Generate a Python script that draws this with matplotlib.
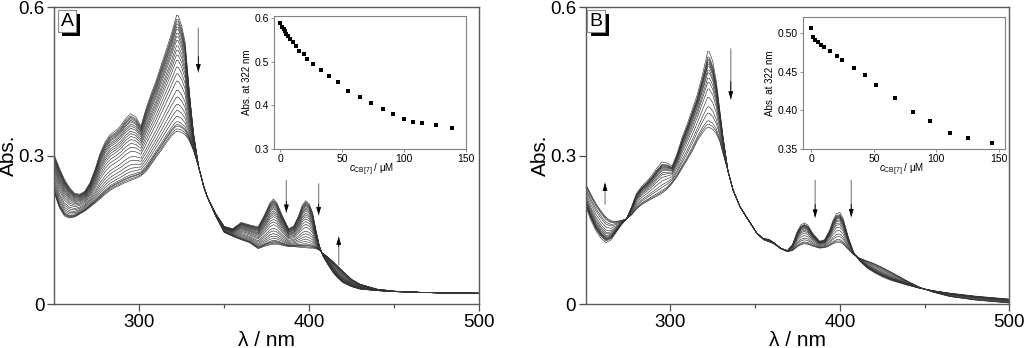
import numpy as np
import matplotlib
matplotlib.use("Agg")
import matplotlib.pyplot as plt
import matplotlib.patheffects as pe

plt.rcParams['font.family'] = ['Liberation Sans', 'DejaVu Sans']
plt.rcParams['mathtext.fontset'] = 'custom'
plt.rcParams['mathtext.rm'] = 'Liberation Sans'
plt.rcParams['mathtext.it'] = 'Liberation Sans:italic'

# ---- panel A : first and last scan ----
wl_a = [250, 253, 256, 259, 262, 265, 268, 271, 274, 277, 280, 283, 286, 289, 292,
        295, 298, 301, 304, 307, 310, 313, 316, 319, 321, 322, 323, 325, 327, 329,
        330, 332, 335, 338, 340, 345, 350, 355, 360, 365, 370, 374, 377, 379, 381,
        384, 388, 391, 394, 396, 398, 400, 402, 404, 406, 408, 411, 414, 417, 420,
        425, 430, 440, 450, 470, 500]
abs_a_first = [0.301, 0.275, 0.252, 0.235, 0.224, 0.222, 0.228, 0.245, 0.272, 0.305,
               0.328, 0.343, 0.350, 0.360, 0.375, 0.385, 0.378, 0.360, 0.395, 0.425,
               0.452, 0.484, 0.515, 0.547, 0.572, 0.584, 0.583, 0.562, 0.530, 0.450,
               0.412, 0.345, 0.277, 0.237, 0.217, 0.183, 0.157, 0.152, 0.165, 0.160,
               0.156, 0.182, 0.205, 0.212, 0.205, 0.180, 0.152, 0.158, 0.180, 0.200,
               0.209, 0.203, 0.185, 0.150, 0.118, 0.098, 0.080, 0.064, 0.052, 0.043,
               0.035, 0.030, 0.027, 0.025, 0.023, 0.022]
abs_a_last = [0.225, 0.195, 0.178, 0.174, 0.176, 0.182, 0.188, 0.196, 0.204, 0.213,
              0.222, 0.230, 0.236, 0.241, 0.246, 0.250, 0.254, 0.259, 0.268, 0.282,
              0.297, 0.311, 0.326, 0.340, 0.347, 0.349, 0.349, 0.347, 0.342, 0.333,
              0.326, 0.310, 0.277, 0.237, 0.217, 0.178, 0.145, 0.137, 0.130, 0.124,
              0.112, 0.117, 0.120, 0.121, 0.121, 0.119, 0.116, 0.116, 0.115, 0.114,
              0.114, 0.113, 0.113, 0.112, 0.109, 0.103, 0.095, 0.086, 0.076, 0.066,
              0.050, 0.040, 0.030, 0.026, 0.023, 0.021]

# inset A: abs. at 322 nm vs c(CB[7])
conc_a = [0.2, 1.6, 2.7, 3.7, 4.8, 6.2, 8.0, 10.2, 12.8, 15.5, 19.3, 22.0, 26.8,
          32.6, 39.3, 46.8, 55.1, 64.2, 73.8, 82.9, 91.5, 99.8, 107.5, 115.0, 126.0, 139.1]
a322_a = [0.589, 0.581, 0.576, 0.571, 0.565, 0.560, 0.552, 0.545, 0.537, 0.526, 0.517,
          0.507, 0.496, 0.482, 0.468, 0.453, 0.434, 0.420, 0.405, 0.392, 0.380, 0.369,
          0.363, 0.360, 0.354, 0.349]

# ---- panel B ----
wl_b = [250, 253, 256, 259, 262, 265, 268, 271, 274, 277, 280, 283, 286, 289, 292,
        295, 298, 301, 304, 307, 310, 313, 316, 319, 321, 322, 323, 325, 327, 329,
        331, 334, 337, 341, 345, 351, 355, 358, 361, 365, 369, 372, 375, 377, 379,
        381, 384, 388, 391, 394, 396, 398, 400, 402, 405, 408, 412, 416, 420, 425,
        430, 440, 447, 455, 465, 480, 500]
abs_b_first = [0.197, 0.170, 0.148, 0.133, 0.124, 0.130, 0.145, 0.160, 0.172, 0.196,
               0.224, 0.238, 0.248, 0.260, 0.275, 0.287, 0.285, 0.279, 0.305, 0.338,
               0.365, 0.395, 0.425, 0.466, 0.495, 0.511, 0.510, 0.490, 0.452, 0.396,
               0.340, 0.268, 0.230, 0.197, 0.175, 0.143, 0.132, 0.131, 0.124, 0.113,
               0.108, 0.120, 0.148, 0.160, 0.164, 0.160, 0.143, 0.127, 0.130, 0.150,
               0.170, 0.183, 0.185, 0.172, 0.135, 0.105, 0.086, 0.073, 0.064, 0.055,
               0.048, 0.038, 0.032, 0.027, 0.022, 0.016, 0.010]
abs_b_last = [0.243, 0.222, 0.203, 0.188, 0.175, 0.168, 0.167, 0.169, 0.172, 0.180,
              0.192, 0.201, 0.207, 0.213, 0.218, 0.224, 0.232, 0.244, 0.258, 0.275,
              0.292, 0.310, 0.331, 0.347, 0.355, 0.357, 0.357, 0.353, 0.345, 0.330,
              0.305, 0.268, 0.230, 0.197, 0.175, 0.143, 0.130, 0.126, 0.122, 0.112,
              0.106, 0.108, 0.116, 0.120, 0.122, 0.121, 0.117, 0.113, 0.114, 0.118,
              0.122, 0.125, 0.125, 0.121, 0.110, 0.100, 0.092, 0.087, 0.082, 0.074,
              0.065, 0.046, 0.034, 0.024, 0.015, 0.008, 0.002]

conc_b = [0.0, 1.3, 2.9, 5.3, 7.7, 10.1, 15.2, 20.2, 24.7, 34.1, 42.8, 51.3, 67.0,
          81.6, 95.2, 110.9, 125.3, 144.4]
a322_b = [0.507, 0.496, 0.492, 0.489, 0.485, 0.482, 0.4775, 0.4706, 0.465, 0.455,
          0.446, 0.4334, 0.4166, 0.3984, 0.386, 0.371, 0.364, 0.358]

fig = plt.figure(figsize=(10.24, 3.48), dpi=100)


def spectra_panel(rect, wl, first, last, a322, label, arrows):
    ax = fig.add_axes(rect)
    first = np.array(first)
    last = np.array(last)
    a322 = np.array(a322)
    # each scan follows the titration level seen in the inset
    frac = (a322 - a322[-1]) / (a322[0] - a322[-1])
    for f in frac:
        ax.plot(wl, last + f * (first - last), color='0.2', lw=0.45)
    ax.set_xlim(250, 500)
    ax.set_ylim(0, 0.6)
    ax.set_xticks([300, 400, 500])
    ax.set_xticks([350, 450], minor=True)
    ax.set_yticks([0, 0.3, 0.6])
    ax.set_yticklabels(['0', '0.3', '0.6'])
    ax.tick_params(labelsize=13.5, direction='out', length=5, width=0.9, color='0.3', pad=2)
    ax.tick_params(which='minor', direction='out', length=3, width=0.9, color='0.3')
    for s in ax.spines.values():
        s.set_color('0.35')
        s.set_linewidth(1.0)
    ax.set_xlabel('λ / nm', fontsize=15, labelpad=0)
    ax.set_ylabel('Abs.', fontsize=15, labelpad=0)
    for (x, y0, y1) in arrows:
        ax.annotate('', xy=(x, y1), xytext=(x, y0),
                    arrowprops=dict(arrowstyle='-', color='0.55', lw=0.9,
                                    shrinkA=0, shrinkB=0))
        ax.annotate('', xy=(x, y1), xytext=(x, y1 + 0.35 * (y0 - y1)),
                    arrowprops=dict(arrowstyle='-|>,head_length=0.45,head_width=0.14',
                                    color='black', lw=0.6, shrinkA=0, shrinkB=0))
    # label box with shadow
    t = ax.text(label[1], 0.982, label[0], transform=ax.transAxes, fontsize=14,
                ha='left', va='top', color='black',
                bbox=dict(boxstyle='square,pad=0.12', fc='white', ec='0.55', lw=0.8))
    t.get_bbox_patch().set_path_effects([
        pe.SimplePatchShadow(offset=(3, -3), shadow_rgbFace='black', alpha=1.0),
        pe.Normal()])
    return ax


def inset(rect, conc, a322, xlim, ylim, yticks, yfmt, xlab_x):
    ax = fig.add_axes(rect)
    ax.plot(conc, a322, 's', color='black', ms=2.3, mew=0)
    ax.set_xlim(*xlim)
    ax.set_ylim(*ylim)
    ax.set_xticks([0, 50, 100, 150])
    ax.set_yticks(yticks)
    ax.set_yticklabels([yfmt.format(v) for v in yticks])
    ax.tick_params(labelsize=7.5, direction='out', length=2, width=0.6, color='0.5', pad=1.5)
    for s in ax.spines.values():
        s.set_color('0.5')
        s.set_linewidth(0.8)
    ax.set_ylabel('Abs. at 322 nm', fontsize=7, labelpad=2)
    ax.set_xlabel(r'$c_\mathregular{CB[7]}$ / μM', fontsize=7)
    ax.xaxis.set_label_coords(xlab_x, -0.095)
    return ax


spectra_panel([0.0530, 0.1264, 0.4148, 0.8526], wl_a, abs_a_first, abs_a_last, a322_a,
              ('A', 0.015),
              [(334.8, 0.558, 0.469), (386.6, 0.250, 0.185), (405.6, 0.243, 0.180),
               (417.4, 0.079, 0.136)])
spectra_panel([0.5720, 0.1264, 0.4137, 0.8526], wl_b, abs_b_first, abs_b_last, a322_b,
              ('B', 0.0085),
              [(335.6, 0.516, 0.414), (385.4, 0.250, 0.175), (406.7, 0.250, 0.176),
               (261.4, 0.202, 0.245)])

inset([0.2676, 0.5718, 0.1872, 0.383], conc_a, a322_a, (-5, 150), (0.3, 0.606),
      [0.3, 0.4, 0.5, 0.6], '{:.1f}', 0.51)
inset([0.7839, 0.5718, 0.1976, 0.3785], conc_b, a322_b, (-7, 155), (0.35, 0.521),
      [0.35, 0.40, 0.45, 0.50], '{:.2f}', 0.49)

fig.savefig('out.png', dpi=100)
